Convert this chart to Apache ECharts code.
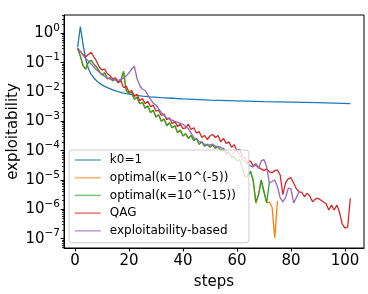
<!DOCTYPE html>
<html><head><meta charset="utf-8">
<script src="https://cdn.jsdelivr.net/npm/echarts@6/dist/echarts.min.js"></script>
<style>html,body{margin:0;padding:0;background:#fff}#c{width:368px;height:294px}</style>
</head><body><div id="c"></div>
<script>
// ---- data (exploitability vs steps) ----
const seriesNames = ['k0=1', 'optimal(κ=10^(-5))', 'optimal(κ=10^(-15))', 'QAG', 'exploitability-based'];
const colors = ['#1f77b4', '#ff7f0e', '#2ca02c', '#d62728', '#9467bd'];

// k0=1 : smooth curve, sampled points
const k0Steps  = [1, 2, 3, 4, 5, 6, 7, 8, 9, 10, 11, 12, 14, 16, 18, 20, 22, 25, 28, 32, 36, 40, 50, 60, 70, 80, 90, 102];
const k0Values = [0.33, 1.7, 0.42, 0.13, 0.062, 0.04, 0.03, 0.024, 0.02, 0.0175, 0.0155, 0.014, 0.0118, 0.0103, 0.0092, 0.0084, 0.0078, 0.0072, 0.0068, 0.0064, 0.0061, 0.0058, 0.0053, 0.005, 0.0047, 0.0045, 0.0043, 0.004];

// the noisy series: log10(exploitability) at steps 1, 2, 3, ...
const optimal5Log = [
 -0.52,-0.78,-1.10,-1.22,-0.98,-0.92,-1.05,-1.15,-1.30,-1.42,
 -1.35,-1.55,-1.52,-1.62,-1.55,-1.68,-1.60,-1.30,-1.95,-2.05,
 -2.00,-2.25,-2.18,-2.40,-2.35,-2.55,-2.48,-2.70,-2.62,-2.85,
 -2.78,-3.00,-2.92,-3.15,-3.05,-3.22,-3.15,-3.38,-3.30,-3.50,
 -3.42,-3.58,-3.48,-3.65,-3.58,-3.78,-3.70,-3.85,-3.78,-3.88,
 -3.80,-3.92,-3.85,-4.00,-3.92,-4.12,-4.05,-4.25,-4.18,-4.35,
 -4.30,-4.60,-4.90,-4.85,-4.70,-5.00,-5.80,-5.50,-5.00,-5.40,
 -5.78,-5.75,-5.92,-6.97,-5.72];
const optimal15Log = [
 -0.52,-0.78,-1.10,-1.22,-0.98,-0.92,-1.05,-1.15,-1.30,-1.42,
 -1.35,-1.55,-1.52,-1.62,-1.55,-1.68,-1.60,-1.30,-1.95,-2.05,
 -2.00,-2.25,-2.18,-2.40,-2.35,-2.55,-2.48,-2.70,-2.62,-2.85,
 -2.78,-3.00,-2.92,-3.15,-3.05,-3.22,-3.15,-3.38,-3.30,-3.50,
 -3.42,-3.58,-3.48,-3.65,-3.58,-3.78,-3.70,-3.85,-3.78,-3.88,
 -3.80,-3.92,-3.85,-4.00,-3.92,-4.12,-4.05,-4.25,-4.18,-4.35,
 -4.30,-4.60,-4.90,-4.85,-4.70,-5.00,-5.75,-5.50,-5.00,-5.40,
 -5.78,-5.10];
const qagLog = [
 -0.52,-0.62,-0.72,-0.80,-0.72,-0.65,-0.80,-0.95,-1.15,-1.25,
 -1.22,-1.38,-1.45,-1.55,-1.52,-1.68,-1.62,-1.85,-1.80,-2.00,
 -1.95,-2.15,-2.08,-2.30,-2.22,-2.40,-2.32,-2.50,-2.45,-2.65,
 -2.62,-2.80,-2.75,-2.95,-2.88,-3.08,-3.00,-3.18,-3.10,-3.25,
 -3.22,-3.10,-3.28,-3.22,-3.40,-3.35,-3.55,-3.48,-3.62,-3.50,
 -3.45,-3.55,-3.48,-3.70,-3.58,-3.75,-3.70,-3.88,-3.80,-4.00,
 -3.95,-4.20,-4.25,-4.40,-4.35,-4.52,-4.45,-4.58,-4.62,-4.68,
 -4.62,-4.72,-4.75,-4.68,-4.66,-4.82,-5.50,-5.10,-4.95,-4.92,
 -5.10,-5.30,-5.40,-5.42,-5.57,-5.45,-5.55,-5.74,-5.65,-5.62,
 -5.68,-5.75,-5.80,-6.02,-5.85,-6.02,-5.85,-6.10,-6.50,-6.64,
 -6.60,-5.62];
const exploitLog = [
 -0.52,-0.62,-0.75,-0.86,-0.95,-1.05,-1.15,-1.25,-1.32,-1.40,
 -1.47,-1.52,-1.56,-1.58,-1.60,-1.60,-1.58,-1.53,-1.45,-1.35,
 -1.22,-1.13,-1.55,-1.78,-1.90,-1.95,-2.10,-2.25,-2.38,-2.45,
 -2.58,-2.70,-2.80,-2.88,-2.93,-2.96,-3.00,-3.03,-3.07,-3.10,
 -3.18,-3.25,-3.40,-3.55,-3.62,-3.68,-3.72,-3.78,-3.82,-3.80,
 -3.78,-3.85,-3.86,-3.88,-3.95,-4.05,-4.10,-4.15,-4.05,-4.00,
 -4.15,-4.30,-4.38,-4.45,-4.52,-4.55,-4.48,-4.60,-4.35,-4.30,
 -4.55,-5.10,-5.05,-5.00,-5.22,-5.60,-5.75,-5.60,-5.28,-5.30,
 -5.78,-5.60,-5.40];

const xTicks = [0, 20, 40, 60, 80, 100];
const yTicks = [1e-7, 1e-6, 1e-5, 1e-4, 1e-3, 1e-2, 1e-1, 1];

// ---- build ----
const FONT = 'DejaVu Sans';
const yMin = 4.83e-8, yMax = 4.19;
const yMinorTicks = [];
for (let e = -8; e <= 0; e++) for (let m = 2; m <= 9; m++) {
  const v = m * Math.pow(10, e);
  if (v > yMin && v < yMax) yMinorTicks.push(v);
}
const fromLog = arr => arr.map((e, i) => [i + 1, Math.pow(10, e)]);
const seriesData = [
  k0Steps.map((s, i) => [s, k0Values[i]]),
  fromLog(optimal5Log),
  fromLog(optimal15Log),
  fromLog(qagLog),
  fromLog(exploitLog)
];

const chart = echarts.init(document.getElementById('c'), null, {renderer: 'canvas'});
chart.setOption({
  animation: false,
  backgroundColor: '#fff',
  grid: {left: 64, right: 4, top: 15, bottom: 46, show: true, borderColor: '#000', borderWidth: 1,
         backgroundColor: 'transparent', containLabel: false, outerBoundsMode: 'none'},
  xAxis: {
    type: 'value', min: -4.05, max: 107.05,
    name: 'steps', nameLocation: 'middle', nameGap: 27, nameMoveOverlap: false,
    nameTextStyle: {fontFamily: FONT, fontSize: 15, color: '#000'},
    axisLine: {show: true, onZero: false, lineStyle: {color: '#000', width: 1}},
    axisTick: {show: true, length: 3.5, customValues: xTicks, lineStyle: {color: '#000'}},
    axisLabel: {customValues: xTicks, fontFamily: FONT, fontSize: 15, color: '#000', margin: 6},
    splitLine: {show: false}
  },
  yAxis: [{
    type: 'log', logBase: 10, min: yMin, max: yMax,
    name: 'exploitability', nameLocation: 'middle', nameGap: 43, nameMoveOverlap: false,
    nameTextStyle: {fontFamily: FONT, fontSize: 15, color: '#000'},
    axisLine: {show: true, onZero: false, lineStyle: {color: '#000', width: 1}},
    axisTick: {show: true, length: 3.5, customValues: yTicks, lineStyle: {color: '#000'}},
    axisLabel: {
      customValues: yTicks, margin: 4,
      formatter: v => {
        const e = Math.round(Math.log10(v));
        return '{b|10}{s|' + (e < 0 ? '\u2212' + (-e) : String(e)) + '}';
      },
      rich: {
        b: {fontFamily: FONT, fontSize: 15, color: '#000'},
        s: {fontFamily: FONT, fontSize: 10.5, color: '#000', verticalAlign: 'top', padding: [0, 0, 10, 0]}
      }
    },
    splitLine: {show: false}
  }, {
    type: 'log', logBase: 10, min: yMin, max: yMax, position: 'left',
    axisLine: {show: false, onZero: false},
    axisTick: {show: true, length: 2, customValues: yMinorTicks, lineStyle: {color: '#000', width: 0.8}},
    axisLabel: {show: false},
    splitLine: {show: false}
  }],
  legend: {
    orient: 'vertical', left: 69, top: 150,
    data: seriesNames,
    itemWidth: 26, itemHeight: 12, itemGap: 5.7,
    padding: [4, 13, 6, 5],
    borderColor: '#cccccc', borderWidth: 1, borderRadius: 3,
    backgroundColor: 'rgba(255,255,255,0.8)',
    selectedMode: false,
    textStyle: {fontFamily: FONT, fontSize: 12, color: '#000', padding: [0, 0, 0, 4]},
    itemStyle: {opacity: 0, borderWidth: 0},
    lineStyle: {width: 1.6, opacity: 0.6}
  },
  series: seriesNames.map((n, i) => ({
    name: n, type: 'line', data: seriesData[i],
    yAxisIndex: 0,
    symbol: 'none', showSymbol: false,
    lineStyle: {color: colors[i], width: 1.3},
    itemStyle: {color: colors[i]},
    silent: true
  }))
});
</script></body></html>
